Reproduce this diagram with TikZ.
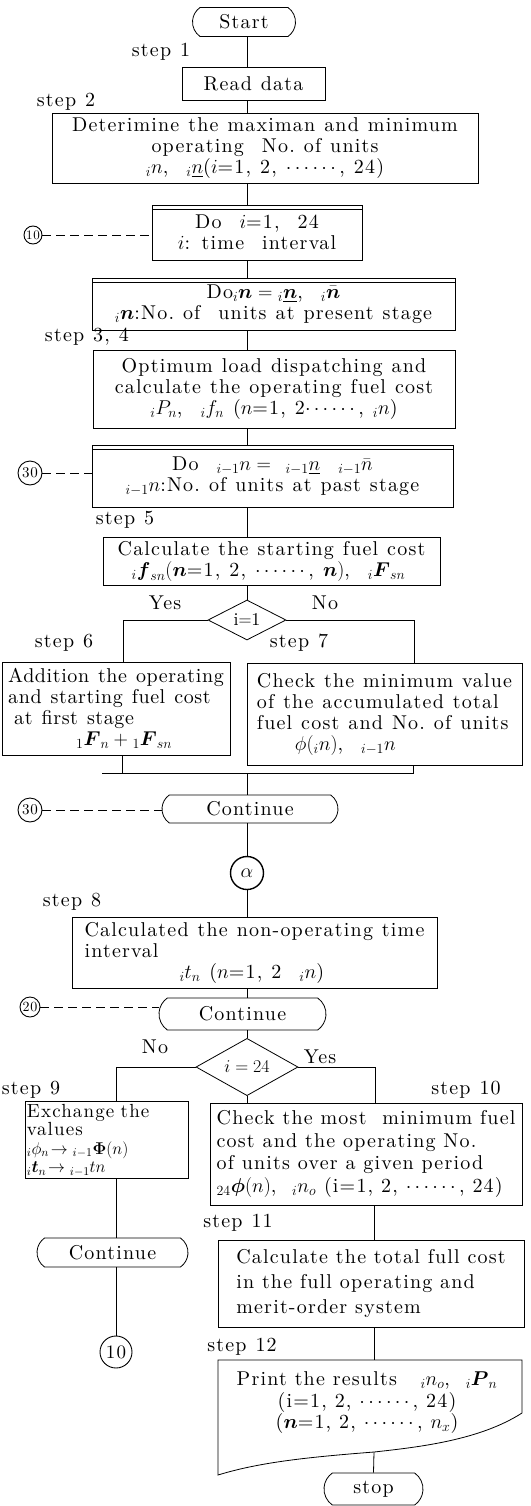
\RequirePackage{fix-cm}
\documentclass[tikz,border=0pt]{standalone}
\usepackage{amsmath}
\usepackage{fontspec}
\setmainfont{lmroman10-regular.otf}[LetterSpace=6,
  BoldFont=lmroman10-bold.otf, ItalicFont=lmroman10-italic.otf]
\usetikzlibrary{shapes.geometric, shapes.misc, positioning, calc}

\newcommand{\bodyfont}{\fontsize{20}{21}\selectfont\spaceskip=0.45em plus 0.15em minus 0.1em\relax}

\tikzset{
  stepbox/.style={draw, rectangle, line width=0.8pt, inner sep=4pt},
  loopbox/.style={stepbox, path picture={\draw[line width=0.6pt]
      ([yshift=-4pt]path picture bounding box.north west) --
      ([yshift=-4pt]path picture bounding box.north east);}},
  termbox/.style={draw, rounded rectangle, rounded rectangle arc length=110,
    line width=0.8pt, inner sep=2pt},
  decbox/.style={draw, diamond, line width=0.8pt, inner sep=0pt,
    font=\fontsize{18}{18}\selectfont},
  connbox/.style={draw, circle, line width=0.9pt, inner sep=0pt},
  steplbl/.style={inner sep=0pt},
  link/.style={line width=0.8pt},
  jump/.style={line width=0.7pt, dash pattern=on 9pt off 5pt},
}

\begin{document}
\begin{tikzpicture}[x=1pt, y=-1pt, font=\bodyfont]
  \useasboundingbox (0,0) rectangle (530,1506);
  \coordinate (spine) at (247,0);
  \coordinate (rspine) at (374,0);

  % step 1 - 2
  \node[termbox, minimum width=107pt, minimum height=29pt] (start) at (244,22) {Start};
  \node[steplbl] (s1) at (161,52) {step 1};
  \node[stepbox, minimum width=143pt, minimum height=33pt] (read) at (253.5,83.5) {Read data};
  \node[steplbl] (s2) at (66,102) {step 2};
  \node[stepbox, minimum width=426pt, minimum height=70pt, align=center] (range) at (265,148)
    {Deterimine the maximan and minimum\\ operating\ \ No.\ of units\\
     ${}_in$,\ \ ${}_i\underline{n}$($i$=1, 2, $\cdots\cdots$, 24)};

  % loops over i and n
  \node[loopbox, minimum width=210pt, minimum height=55pt, align=center] (doi) at (257,232.5)
    {Do\ \ $i$=1,\ \ 24\\ $i$: time\ \ interval};
  \node[connbox, minimum size=18pt, font=\fontsize{13}{13}\selectfont] (c10a) at (33,235) {10};
  \node[loopbox, minimum width=363pt, minimum height=52pt, align=center] (don) at (273.5,304)
    {Do${}_i\boldsymbol{n}={}_i\underline{\boldsymbol{n}}$,\ \ ${}_i\bar{\boldsymbol{n}}$\\
     ${}_i\boldsymbol{n}$:No.\ of\ \ units at present stage};
  \node[steplbl] (s34) at (87,337) {step 3, 4};
  \node[stepbox, minimum width=362pt, minimum height=78pt, align=center] (opt) at (274,389)
    {Optimum load dispatching and\\ calculate the operating fuel cost\\
     ${}_iP_n$,\ \ ${}_if_n$ ($n$=1, 2$\cdots\cdots$, ${}_in$)};
  \node[loopbox, minimum width=361pt, minimum height=62pt, align=center] (dopast) at (272.5,476)
    {Do\ \ ${}_{i-1}n=\ {}_{i-1}\underline{n}\ \ {}_{i-1}\bar{n}$\\
     ${}_{i-1}n$:No.\ of units at past stage};
  \node[connbox, minimum size=24pt, font=\fontsize{15}{15}\selectfont] (c30a) at (30,473) {30};

  % step 5 - 7
  \node[steplbl] (s5) at (125,520) {step 5};
  \node[stepbox, inner sep=3pt, minimum width=337pt, minimum height=48pt, align=left] (fcost) at (271.5,561)
    {Calculate the starting fuel cost\\
     \hspace*{14pt}${}_i\boldsymbol{f}_{sn}(\boldsymbol{n}$=1, 2, $\cdots\cdots$, $\boldsymbol{n})$,\ \ ${}_i\boldsymbol{F}_{sn}$};
  \node[decbox, minimum width=78pt, minimum height=40pt] (dec1) at (247,620) {i$=$1};
  \node (yes1) at (165,603) {Yes};
  \node (no1) at (325,603) {No};
  \node[steplbl] (s6) at (64,643) {step 6};
  \node[steplbl] (s7) at (299,643) {step 7};
  \node[stepbox, inner sep=2pt, minimum width=228pt, minimum height=93pt, align=left,
        font=\bodyfont\addfontfeature{LetterSpace=3}] (add) at (116,708.5)
    {Addition the operating\\ and starting fuel cost\\ \hspace*{6pt}at first stage\\
     \hspace*{68pt}${}_1\boldsymbol{F}_n+{}_1\boldsymbol{F}_{sn}$};
  \node[stepbox, inner sep=3pt, minimum width=275pt, minimum height=102pt, align=left] (chk) at (384.5,714)
    {Check the minimum value\\ of the accumulated total\\ fuel cost and No.\ of units\\
     \hspace*{38pt}$\phi({}_in)$,\ \ ${}_{i-1}n$};
  \coordinate (mL) at (122,773);
  \coordinate (mR) at (413,773);
  \coordinate (merge) at (247,773);

  % end of the loops
  \node[termbox, minimum width=180pt, minimum height=28pt] (cont1) at (250,809) {Continue};
  \node[connbox, minimum size=24pt, font=\fontsize{15}{15}\selectfont] (c30b) at (30,810) {30};
  \node[connbox, minimum size=33pt, line width=1.4pt] (alpha) at (247,873) {$\alpha$};
  \node[steplbl] (s8) at (72,902) {step 8};
  \node[stepbox, inner sep=3pt, minimum width=365pt, minimum height=71pt, align=left] (nonop) at (254.5,952.5)
    {Calculated the non-operating time\\ interval\\
     \hspace*{95pt}${}_it_n$ ($n$=1, 2\ \ ${}_in$)};
  \node[termbox, minimum width=171pt, minimum height=32pt] (cont2) at (242.5,1014) {Continue};
  \node[connbox, minimum size=20pt, font=\fontsize{14}{14}\selectfont] (c20) at (30,1007) {20};

  % step 9 - 12
  \node[decbox, minimum width=102pt, minimum height=28pt] (dec2) at (247,1067) {$i=24$};
  \node (no2) at (155,1047) {No};
  \node (yes2) at (320,1057) {Yes};
  \node[steplbl] (s9) at (31,1090) {step 9};
  \node[steplbl] (s10) at (466,1090) {step 10};
  \node[stepbox, inner sep=2pt, text width=159pt, minimum height=69pt, align=left,
        font=\fontsize{19}{18.5}\selectfont] (exch) at (106.5,1140)
    {Exchange the\\ values\\
     {\fontsize{17}{18.5}\selectfont${}_i\phi_n\!\rightarrow{}_{i-1}\boldsymbol{\Phi}(n)$}\\
     {\fontsize{17}{18.5}\selectfont${}_i\boldsymbol{t}_n\!\rightarrow{}_{i-1}tn$}};
  \node[stepbox, inner sep=2pt, minimum width=312pt, minimum height=102pt, align=left,
        font=\fontsize{20}{22.5}\selectfont] (most) at (366,1154)
    {Check the most\ \ minimum fuel\\ cost and the operating No.\\ of units over a given period\\
     ${}_{24}\boldsymbol{\phi}(n)$,\ \ ${}_in_o$ (i=1, 2, $\cdots\cdots$, 24)};
  \node[termbox, minimum width=155pt, minimum height=29pt] (cont3) at (112.5,1252.5) {Continue};
  \node[connbox, minimum size=32pt, font=\fontsize{19}{19}\selectfont] (c10b) at (116,1352) {10};
  \node[steplbl] (s11) at (238,1223) {step 11};
  \node[stepbox, minimum width=306pt, minimum height=87pt, align=left,
        font=\fontsize{20}{25}\selectfont] (total) at (371,1283.5)
    {Calculate the total full cost\\ in the full operating and\\ merit-order system};
  \node[steplbl] (s12) at (242,1347) {step 12};
  \coordinate (ptop) at (374,1360);
  \coordinate (pbot) at (374,1452);
  \node[align=center, font=\fontsize{20}{21.5}\selectfont] (print) at (367,1403)
    {Print the results\ \ \ ${}_in_o$,\ \ ${}_i\boldsymbol{P}_n$\\ (i=1, 2, $\cdots\cdots$, 24)\\
     ($\boldsymbol{n}$=1, 2, $\cdots\cdots$, $n_x$)};
  \draw[link] (218,1360) -- (522,1360) -- (522,1413)
    .. controls (480,1440) and (420,1447) .. (pbot)
    .. controls (310,1457) and (260,1462) .. (218,1475) -- cycle;
  \node[termbox, minimum width=103pt, minimum height=32pt] (stop) at (373.5,1489) {stop};

  % main column
  \draw[link] (start.south -| spine) -- (read.north -| spine);
  \draw[link] (read.south -| spine) -- (range.north -| spine);
  \draw[link] (range.south -| spine) -- (doi.north -| spine);
  \draw[link] (doi.south -| spine) -- (don.north -| spine);
  \draw[link] (don.south -| spine) -- (opt.north -| spine);
  \draw[link] (opt.south -| spine) -- (dopast.north -| spine);
  \draw[link] (dopast.south -| spine) -- (fcost.north -| spine);
  \draw[link] (fcost.south -| spine) -- (dec1.north);
  \draw[link] (dec1.west) -| ([xshift=7pt]add.north);
  \draw[link] (dec1.east) -| ([xshift=30pt]chk.north);
  \draw[link] (add.south -| mL) -- (mL) -- (mR) -- (chk.south -| mR);
  \draw[link] ([xshift=-20pt]mL) -- (mL);
  \draw[link] (merge) -- (cont1.north -| spine);
  \draw[link] (cont1.south -| spine) -- (alpha);
  \draw[link] (alpha) -- (nonop.north -| spine);
  \draw[link] (nonop.south -| spine) -- (cont2.north -| spine);
  \draw[link] (cont2.south -| spine) -- (dec2.north);
  \draw[link] (dec2.west) -| ([xshift=10pt]exch.north);
  \draw[link] (dec2.east) -| ([xshift=9pt]most.north);
  \draw[link] (dec2.south) -- (most.north -| dec2.south);

  % left and right columns
  \draw[link] (exch.south -| c10b) -- (cont3.north -| c10b);
  \draw[link] (cont3.south -| c10b) -- (c10b);
  \draw[link] (most.south -| rspine) -- (total.north -| rspine);
  \draw[link] (total.south -| rspine) -- (ptop);
  \draw[link] (pbot) -- (stop.north);

  % loop jumps
  \draw[jump] (c10a) -- (c10a -| doi.west);
  \draw[jump] (c30a) -- (c30a -| dopast.west);
  \draw[jump] (c30b) -- (c30b -| cont1.west);
  \draw[jump] (c20) -- (c20 -| cont2.west);
\end{tikzpicture}
\end{document}
